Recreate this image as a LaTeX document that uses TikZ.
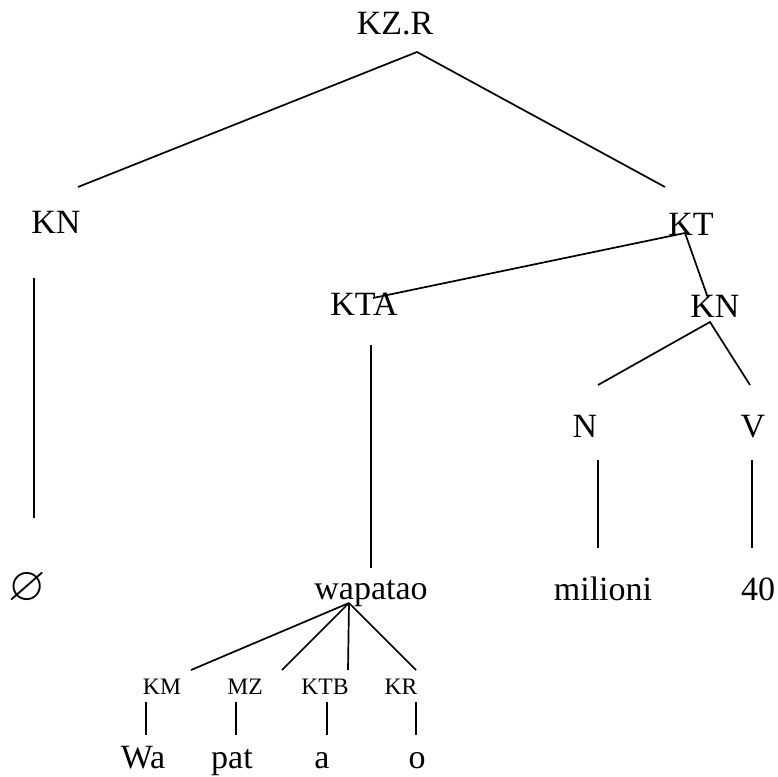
\documentclass[tikz,border=0pt]{standalone}
\usepackage{amssymb}
\usepackage{fontspec}
\setmainfont{Liberation Serif}
\begin{document}
\begin{tikzpicture}[x=0.5pt,y=-0.5pt,line width=0.85pt,
    cat/.style={anchor=base,inner sep=0pt,font=\fontsize{17}{20}\selectfont},
    morph/.style={anchor=base,inner sep=0pt,font=\fontsize{11.8}{14}\selectfont}]
    \useasboundingbox (0,0) rectangle (778,777);

    % Categories of the tree
    \node[cat] (kzr) at (395,34) {KZ.R};
    \node[cat] (kn) at (56,233) {KN};
    \node[cat] (kt) at (691,235) {KT};
    \node[cat] (kta) at (364,315) {KTA};
    \node[cat] (knb) at (715,317) {KN};
    \node[cat] (n) at (585,437) {N};
    \node[cat] (v) at (753,437) {V};

    % Words on the bottom line
    \node[cat,font=\fontsize{24}{28}\selectfont] (nil) at (27,600) {$\varnothing$};
    \node[cat] (wapatao) at (371,599) {wapatao};
    \node[cat] (milioni) at (603,600) {milioni};
    \node[cat] (forty) at (758,600) {40};

    % Morphemes of wapatao
    \foreach \x/\name/\cat/\xw/\word in {162/km/KM/143/Wa, 245/mz/MZ/232/pat,
        325/ktb/KTB/322/a, 401/kr/KR/417/o} {
        \node[morph] (\name) at (\x,694) {\cat};
        \node[cat] (\name-w) at (\xw,768) {\word};
    };

    % Ends of the branches
    \coordinate (kzr-b) at (417,52);
    \coordinate (kn-t) at (78,187);
    \coordinate (kt-t) at (665,187);
    \coordinate (kt-b) at (685,233);
    \coordinate (kta-t) at (373,298);
    \coordinate (knb-t) at (708,298);
    \coordinate (knb-b) at (710,322);
    \coordinate (n-t) at (598,385);
    \coordinate (v-t) at (750,385);
    \coordinate (wapatao-b) at (349,603);

    % Branches
    \draw (kn-t) -- (kzr-b) -- (kt-t);
    \draw (kta-t) -- (kt-b) -- (knb-t);
    \draw (n-t) -- (knb-b) -- (v-t);
    \draw (34,278) -- (34,518);
    \draw (371,345) -- (371,568);
    \draw (598,460) -- (598,548);
    \draw (752,460) -- (752,548);
    \foreach \x in {191,282,348,416}
        \draw (wapatao-b) -- (\x,670);
    \foreach \x in {146,236,327,416}
        \draw (\x,702) -- (\x,735);
\end{tikzpicture}
\end{document}
